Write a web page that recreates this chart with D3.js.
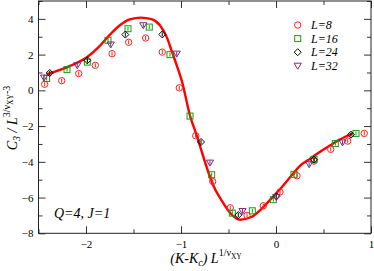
<!DOCTYPE html>
<html>
<head>
<meta charset="utf-8">
<script src="https://cdn.jsdelivr.net/npm/d3@7"></script>
<style>
  body { margin: 0; background: #fff; }
  svg { display: block; font-family: "Liberation Serif", "DejaVu Serif", serif; }
</style>
</head>
<body>
<svg id="chart" width="374" height="271"></svg>
<script>
// datos
const xL8 = [-2.435, -2.256, -2.077, -1.902, -1.726, -1.551, -1.372, -1.197, -1.018, -0.845, -0.666, -0.481, -0.305, -0.134, 0.042, 0.221, 0.4, 0.576, 0.755, 0.929];
const yL8 = [0.34, 0.54, 0.94, 1.40, 2.05, 2.69, 2.93, 2.14, 0.14, -2.54, -5.10, -6.57, -7.0, -6.46, -5.69, -4.78, -3.96, -3.30, -2.84, -2.41];
const xL16 = [-2.414, -2.2, -1.986, -1.768, -1.558, -1.334, -1.116, -0.905, -0.677, -0.46, -0.249, -0.028, 0.189, 0.4, 0.624, 0.842];
const yL16 = [0.66, 1.16, 1.58, 2.80, 3.45, 3.54, 2.0, -1.44, -4.72, -6.87, -6.74, -6.12, -4.70, -3.86, -2.98, -2.41];
const xL24 = [-2.382, -1.986, -1.586, -1.197, -0.789, -0.397, 0.005, 0.4, 0.789];
const yL24 = [0.97, 1.68, 3.12, 3.13, -2.89, -6.98, -5.93, -3.88, -2.48];
const xL32 = [-2.442, -2.092, -1.74, -1.397, -1.045, -0.695, -0.353, 0.003, 0.349, 0.7];
const yL32 = [0.71, 1.40, 2.56, 3.64, 2.05, -4.05, -6.76, -5.97, -4.14, -2.92];
// curva de ajuste
const xFit = [-2.41, -2.16, -1.99, -1.87, -1.76, -1.64, -1.54, -1.42, -1.31, -1.22, -1.15, -1.10, -1.045, -0.99, -0.905, -0.835, -0.73, -0.66, -0.57, -0.48, -0.38, -0.26, -0.15, -0.045, 0.06, 0.17, 0.25, 0.36, 0.46, 0.57, 0.67, 0.81];
const yFit = [0.90, 1.38, 1.85, 2.40, 3.05, 3.66, 3.97, 4.07, 3.98, 3.63, 2.98, 2.24, 1.40, 0.50, -1.42, -2.52, -4.30, -5.32, -6.18, -6.88, -7.24, -7.09, -6.62, -6.03, -5.42, -4.72, -4.24, -3.82, -3.45, -3.08, -2.76, -2.40];
const xTicks = [-2, -1, 0, 1];
const yTicks = [-8, -6, -4, -2, 0, 2, 4];
const series = ["L=8", "L=16", "L=24", "L=32"];

const svg = d3.select("#chart");
const margen = { left: 38.5, top: 1, right: 3, bottom: 37.7 };
const ancho = +svg.attr("width"), alto = +svg.attr("height");

const x = d3.scaleLinear().domain([-2.5, 1]).range([margen.left, ancho - margen.right]);
const y = d3.scaleLinear().domain([-8, 5]).range([alto - margen.bottom, margen.top]);

// ejes con marcas hacia adentro
function ejeX(g, pos, etiquetas) {
  const ax = (pos === "bottom" ? d3.axisBottom(x) : d3.axisTop(x))
    .tickValues(xTicks).tickSizeInner(-7).tickSizeOuter(0)
    .tickFormat(etiquetas ? d3.format("d") : "");
  g.call(ax);
  const axm = (pos === "bottom" ? d3.axisBottom(x) : d3.axisTop(x))
    .tickValues([-2.5, -1.5, -0.5, 0.5]).tickSizeInner(-4).tickSizeOuter(0).tickFormat("");
  g.append("g").call(axm);
}
function ejeY(g, pos, etiquetas) {
  const ay = (pos === "left" ? d3.axisLeft(y) : d3.axisRight(y))
    .tickValues(yTicks).tickSizeInner(-7).tickSizeOuter(0)
    .tickFormat(etiquetas ? d3.format("d") : "");
  g.call(ay);
  const aym = (pos === "left" ? d3.axisLeft(y) : d3.axisRight(y))
    .tickValues([-7, -5, -3, -1, 1, 3, 5]).tickSizeInner(-4).tickSizeOuter(0).tickFormat("");
  g.append("g").call(aym);
}

const gB = svg.append("g").attr("transform", `translate(0,${y(-8)})`);
ejeX(gB, "bottom", true);
const gT = svg.append("g").attr("transform", `translate(0,${y(5)})`);
ejeX(gT, "top", false);
const gL = svg.append("g").attr("transform", `translate(${x(-2.5)},0)`);
ejeY(gL, "left", true);
const gR = svg.append("g").attr("transform", `translate(${x(1)},0)`);
ejeY(gR, "right", false);

svg.selectAll(".domain").remove();
svg.selectAll(".tick line").attr("stroke", "#333");
svg.selectAll(".tick text").attr("font-size", 11).attr("font-family", "Liberation Serif").attr("fill", "#000");
gB.selectAll(".tick text").attr("dy", "1.05em");
gL.selectAll(".tick text").attr("x", -5);

// marco
svg.append("rect")
  .attr("x", x(-2.5)).attr("y", y(5))
  .attr("width", x(1) - x(-2.5)).attr("height", y(-8) - y(5))
  .attr("fill", "none").attr("stroke", "#222").attr("stroke-width", 1);

// curva roja
const linea = d3.line().x(d => x(d[0])).y(d => y(d[1])).curve(d3.curveMonotoneX);
svg.append("path")
  .datum(d3.zip(xFit, yFit))
  .attr("d", linea)
  .attr("fill", "none").attr("stroke", "#ff0000").attr("stroke-width", 2.4);

// simbolos
const colores = ["#ff2020", "#10a010", "#000000", "#7a2a7a"];
function simbolo(g, tipo, cx, cy, color, barra) {
  if (tipo === 0) {
    g.append("circle").attr("cx", cx).attr("cy", cy).attr("r", 3.2)
      .attr("fill", "none").attr("stroke", color).attr("stroke-width", 1);
  } else if (tipo === 1) {
    g.append("rect").attr("x", cx - 3).attr("y", cy - 3).attr("width", 6).attr("height", 6)
      .attr("fill", "none").attr("stroke", color).attr("stroke-width", 1);
  } else if (tipo === 2) {
    g.append("path").attr("d", `M${cx},${cy - 3.5}L${cx + 3.5},${cy}L${cx},${cy + 3.5}L${cx - 3.5},${cy}Z`)
      .attr("fill", "none").attr("stroke", color).attr("stroke-width", 1);
  } else {
    g.append("path").attr("d", `M${cx - 3.6},${cy - 2.6}L${cx + 3.6},${cy - 2.6}L${cx},${cy + 3.4}Z`)
      .attr("fill", "none").attr("stroke", color).attr("stroke-width", 1);
  }
  if (barra) {
    g.append("line").attr("x1", cx).attr("x2", cx).attr("y1", cy - 2).attr("y2", cy + 2)
      .attr("stroke", color).attr("stroke-width", 1);
  }
}

const datos = [[xL8, yL8], [xL16, yL16], [xL24, yL24], [xL32, yL32]];
datos.forEach((s, i) => {
  const g = svg.append("g");
  s[0].forEach((xv, j) => simbolo(g, i, x(xv), y(s[1][j]), colores[i], true));
});

// leyenda
const ley = svg.append("g");
series.forEach((nombre, i) => {
  const yy = 25 + i * 13.6;
  simbolo(ley, i, 297.7, yy, colores[i], false);
  ley.append("text").attr("x", 311).attr("y", yy + 4)
    .attr("font-size", 12).attr("font-style", "italic").text(nombre);
});

// texto Q=4, J=1
svg.append("text").attr("x", 54).attr("y", 218)
  .attr("font-size", 14).attr("font-style", "italic").text("Q=4, J=1");

// etiqueta eje x
const tx = svg.append("text").attr("x", 206).attr("y", 263).attr("text-anchor", "middle")
  .attr("font-size", 14).attr("font-style", "italic");
tx.append("tspan").text("(K-K");
tx.append("tspan").attr("font-size", 10).attr("dy", 3).text("c");
tx.append("tspan").attr("dy", -3).text(") L");
tx.append("tspan").attr("font-size", 10).attr("dy", -7).attr("font-style", "normal").text("1/ν");
tx.append("tspan").attr("font-size", 7.5).attr("dy", 3).attr("font-style", "normal").text("XY");

// etiqueta eje y
const ty = svg.append("text").attr("transform", "translate(17,118) rotate(-90)")
  .attr("text-anchor", "middle").attr("font-size", 14).attr("font-style", "italic");
ty.append("tspan").text("C");
ty.append("tspan").attr("font-size", 10).attr("dy", 3).text("3");
ty.append("tspan").attr("dy", -3).text(" / L");
ty.append("tspan").attr("font-size", 10).attr("dy", -7).attr("font-style", "normal").text("3/ν");
ty.append("tspan").attr("font-size", 7.5).attr("dy", 3).attr("font-style", "normal").text("XY");
ty.append("tspan").attr("font-size", 10).attr("dy", -3).attr("font-style", "normal").text("-3");
</script>
</body>
</html>
